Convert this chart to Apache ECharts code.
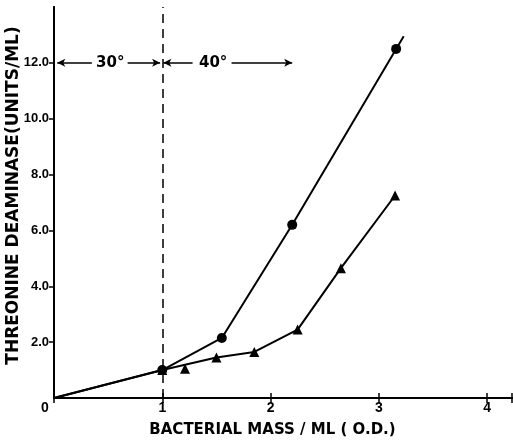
<!DOCTYPE html>
<html>
<head>
<meta charset="utf-8">
<script src="https://cdn.jsdelivr.net/npm/echarts@6/dist/echarts.min.js"></script>
<style>html,body{margin:0;padding:0;background:#fff;}#c{width:513px;height:441px;}</style>
</head>
<body>
<div id="c"></div>
<script>
// Data
const circleData = [[0, 0], [1.0, 1.0], [1.55, 2.15], [2.2, 6.2], [3.16, 12.5]];
const circleLineEnd = [3.23, 12.95];
const triangleData = [[0, 0], [1.0, 1.0], [1.5, 1.45], [1.85, 1.65], [2.25, 2.45], [2.65, 4.65], [3.15, 7.25]];
const triangleOffLine = [[1.21, 1.05]];
const xTicks = [0, 1, 2, 3, 4];
const yTicks = [2, 4, 6, 8, 10, 12];
const tempLabels = [[0.52, 12, '30°'], [1.47, 12, '40°']];
const tempArrows = [[0.35, 0.03], [0.68, 0.98], [1.28, 1.01], [1.64, 2.2]];
const arrowY = 12;
const shiftX = 1.0;

const FONT = 'DejaVu Sans';
const TFONT = 'Liberation Sans';
const chart = echarts.init(document.getElementById('c'), null, {renderer: 'canvas'});

const axisLineStyle = {color: '#000', width: 2};

chart.setOption({
  backgroundColor: '#fff',
  animation: false,
  grid: {left: 54, right: 1, top: 7, bottom: 43, containLabel: false, outerBoundsMode: 'none'},
  xAxis: [{
    type: 'value', min: 0, max: 4.23, interval: 1, position: 'bottom',
    name: 'BACTERIAL MASS / ML ( O.D.)', nameLocation: 'middle', nameGap: 25, nameMoveOverlap: false,
    nameTextStyle: {fontFamily: FONT, fontWeight: 'bold', fontSize: 15, color: '#000', padding: [0, 21, 0, 0]},
    axisLine: {show: true, lineStyle: axisLineStyle},
    axisTick: {show: true, inside: true, length: 5, lineStyle: {color: '#000', width: 1.5}},
    splitLine: {show: false},
    axisLabel: {
      margin: 3, fontFamily: TFONT, fontWeight: 'bold', fontSize: 14, color: '#000',
      formatter: function (v) {
        if (v === 0) return '{o|0}';
        return xTicks.indexOf(v) >= 0 ? String(v) : '';
      },
      rich: {o: {fontFamily: TFONT, fontWeight: 'bold', fontSize: 14, color: '#000', padding: [0, 18, 0, 0]}}
    }
  }, {
    type: 'value', min: 0, max: 4.23, interval: 1, position: 'top',
    axisLine: {show: true, lineStyle: axisLineStyle},
    axisTick: {show: true, inside: true, length: 5, lineStyle: {color: '#000', width: 1.5}},
    axisLabel: {show: false}, splitLine: {show: false}
  }],
  yAxis: [{
    type: 'value', min: 0, max: 14, interval: 2, position: 'left',
    name: 'THREONINE DEAMINASE(UNITS/ML)', nameLocation: 'middle', nameGap: 32, nameMoveOverlap: false,
    nameTextStyle: {fontFamily: FONT, fontWeight: 'bold', fontSize: 17, color: '#000', padding: [0, 0, 0, 14]},
    axisLine: {show: true, lineStyle: axisLineStyle},
    axisTick: {show: true, inside: false, length: 4, customValues: yTicks, lineStyle: {color: '#000', width: 1.5}},
    splitLine: {show: false},
    axisLabel: {
      margin: 5, fontFamily: TFONT, fontWeight: 'bold', fontSize: 13, color: '#000',
      customValues: yTicks,
      formatter: function (v) { return v.toFixed(1); }
    }
  }, {
    type: 'value', min: 0, max: 14, interval: 2, position: 'right',
    axisLine: {show: true, lineStyle: axisLineStyle},
    axisTick: {show: true, inside: true, length: 5, customValues: yTicks, lineStyle: {color: '#000', width: 1.5}},
    axisLabel: {show: false}, splitLine: {show: false}
  }],
  series: [{
    type: 'line',
    data: circleData.map(function (p, i) {
      return i === 0 ? {value: p, symbol: 'none'} : p;
    }).concat([{value: circleLineEnd, symbol: 'none'}]),
    symbol: 'circle', symbolSize: 10,
    lineStyle: {color: '#000', width: 2},
    itemStyle: {color: '#000'},
    markLine: {
      silent: true, symbol: ['none', 'none'],
      lineStyle: {color: '#000', width: 1.5, type: [9, 6]},
      label: {show: false},
      data: [{xAxis: shiftX}]
    }
  }, {
    type: 'line',
    data: triangleData.map(function (p, i) {
      return i === 0 ? {value: p, symbol: 'none'} : p;
    }),
    symbol: 'triangle', symbolSize: 10,
    lineStyle: {color: '#000', width: 2},
    itemStyle: {color: '#000'},
    markLine: {
      silent: true, symbol: ['none', 'arrow'], symbolSize: [6, 8],
      lineStyle: {color: '#000', width: 1.5, type: 'solid'},
      label: {show: false},
      data: tempArrows.map(function (a) {
        return [{coord: [a[0], arrowY]}, {coord: [a[1], arrowY]}];
      })
    }
  }, {
    type: 'scatter',
    data: triangleOffLine,
    symbol: 'triangle', symbolSize: 10,
    itemStyle: {color: '#000', opacity: 1}
  }, {
    type: 'scatter',
    data: tempLabels,
    symbolSize: 1,
    itemStyle: {color: 'rgba(255,255,255,0)', opacity: 1},
    label: {
      show: true, position: 'inside', color: '#000', opacity: 1,
      fontFamily: FONT, fontWeight: 'bold', fontSize: 15,
      formatter: function (p) { return p.value[2]; }
    }
  }]
});
</script>
</body>
</html>
